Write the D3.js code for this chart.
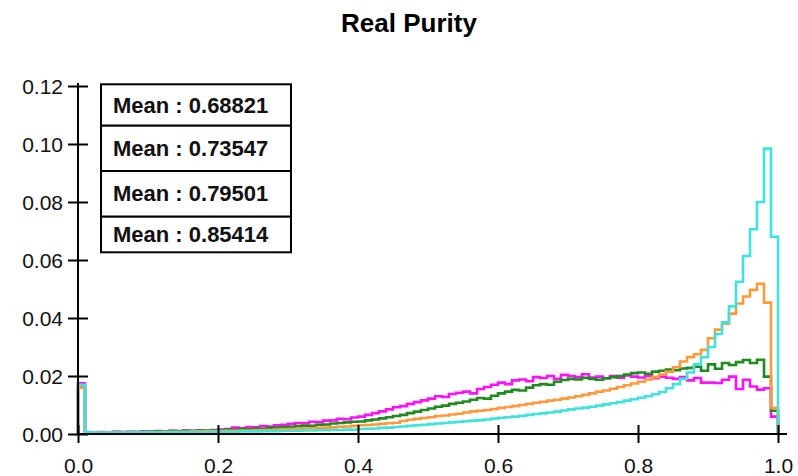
<!DOCTYPE html>
<html>
<head>
<meta charset="utf-8">
<script src="https://cdn.jsdelivr.net/npm/d3@7/dist/d3.min.js"></script>
<style>
  html, body { margin: 0; padding: 0; background: #fff; }
  svg { display: block; }
</style>
</head>
<body>
<svg id="chart" width="798" height="476"></svg>
<script>
// ---------------- DATA ----------------
const titleText = "Real Purity";
const binCount = 100;           // histogram bins on [0, 1]
const seriesNames = ["s1", "s2", "s3", "s4"];
const meanLabels = ["Mean : 0.68821", "Mean : 0.73547", "Mean : 0.79501", "Mean : 0.85414"];
const xTicks = [0.0, 0.2, 0.4, 0.6, 0.8, 1.0];
const yTicks = [0.00, 0.02, 0.04, 0.06, 0.08, 0.10, 0.12];

const magentaValues = [
  0.0175, 0.0007, 0.0006, 0.0007, 0.0006, 0.0008, 0.0007, 0.0008, 0.0007, 0.0009,
  0.0009, 0.0010, 0.0009, 0.0011, 0.0010, 0.0012, 0.0011, 0.0013, 0.0012, 0.0014,
  0.0015, 0.0017, 0.0022, 0.0020, 0.0024, 0.0023, 0.0027, 0.0026, 0.0030, 0.0032,
  0.0035, 0.0038, 0.0037, 0.0042, 0.0041, 0.0046, 0.0047, 0.0052, 0.0051, 0.0057,
  0.0060, 0.0066, 0.0072, 0.0078, 0.0085, 0.0092, 0.0096, 0.0104, 0.0110, 0.0116,
  0.0122, 0.0130, 0.0128, 0.0138, 0.0142, 0.0146, 0.0140, 0.0155, 0.0162, 0.0170,
  0.0177, 0.0172, 0.0185, 0.0188, 0.0182, 0.0196, 0.0193, 0.0200, 0.0190, 0.0204,
  0.0200, 0.0196, 0.0206, 0.0195, 0.0198, 0.0192, 0.0200, 0.0194, 0.0202, 0.0198,
  0.0195, 0.0200, 0.0192, 0.0198, 0.0194, 0.0190, 0.0196, 0.0185, 0.0193, 0.0177,
  0.0177, 0.0176, 0.0187, 0.0198, 0.0155, 0.0187, 0.0164, 0.0153, 0.0158, 0.0060
];
const greenValues = [
  0.0160, 0.0006, 0.0005, 0.0006, 0.0006, 0.0007, 0.0006, 0.0007, 0.0007, 0.0008,
  0.0008, 0.0009, 0.0008, 0.0010, 0.0009, 0.0011, 0.0010, 0.0012, 0.0011, 0.0013,
  0.0013, 0.0015, 0.0014, 0.0017, 0.0016, 0.0019, 0.0018, 0.0021, 0.0022, 0.0024,
  0.0025, 0.0027, 0.0029, 0.0028, 0.0032, 0.0033, 0.0036, 0.0038, 0.0040, 0.0042,
  0.0043, 0.0047, 0.0050, 0.0054, 0.0058, 0.0062, 0.0066, 0.0072, 0.0077, 0.0083,
  0.0088, 0.0094, 0.0098, 0.0104, 0.0108, 0.0112, 0.0118, 0.0124, 0.0122, 0.0132,
  0.0140, 0.0146, 0.0152, 0.0150, 0.0160, 0.0168, 0.0172, 0.0170, 0.0180, 0.0186,
  0.0190, 0.0188, 0.0194, 0.0190, 0.0187, 0.0192, 0.0196, 0.0200, 0.0205, 0.0210,
  0.0212, 0.0208, 0.0215, 0.0218, 0.0222, 0.0220, 0.0226, 0.0228, 0.0232, 0.0218,
  0.0240, 0.0225, 0.0245, 0.0238, 0.0248, 0.0255, 0.0245, 0.0256, 0.0198, 0.0080
];
const orangeValues = [
  0.0160, 0.0005, 0.0005, 0.0005, 0.0006, 0.0005, 0.0006, 0.0006, 0.0006, 0.0007,
  0.0007, 0.0007, 0.0008, 0.0007, 0.0008, 0.0008, 0.0009, 0.0009, 0.0010, 0.0010,
  0.0010, 0.0011, 0.0011, 0.0012, 0.0012, 0.0013, 0.0014, 0.0014, 0.0015, 0.0016,
  0.0017, 0.0018, 0.0019, 0.0020, 0.0021, 0.0022, 0.0023, 0.0025, 0.0026, 0.0028,
  0.0030, 0.0031, 0.0033, 0.0035, 0.0037, 0.0039, 0.0045, 0.0049, 0.0052, 0.0055,
  0.0058, 0.0062, 0.0064, 0.0067, 0.0070, 0.0074, 0.0078, 0.0080, 0.0083, 0.0086,
  0.0090, 0.0093, 0.0096, 0.0100, 0.0104, 0.0108, 0.0111, 0.0115, 0.0118, 0.0122,
  0.0126, 0.0130, 0.0135, 0.0140, 0.0146, 0.0150, 0.0156, 0.0162, 0.0168, 0.0174,
  0.0180, 0.0188, 0.0196, 0.0205, 0.0215, 0.0230, 0.0250, 0.0265, 0.0275, 0.0290,
  0.0330, 0.0360, 0.0380, 0.0415, 0.0450, 0.0474, 0.0497, 0.0518, 0.0453, 0.0090
];
const cyanValues = [
  0.0170, 0.0006, 0.0005, 0.0005, 0.0005, 0.0005, 0.0005, 0.0006, 0.0005, 0.0006,
  0.0006, 0.0006, 0.0006, 0.0007, 0.0006, 0.0007, 0.0007, 0.0007, 0.0007, 0.0008,
  0.0008, 0.0008, 0.0008, 0.0009, 0.0009, 0.0009, 0.0010, 0.0010, 0.0010, 0.0011,
  0.0011, 0.0011, 0.0012, 0.0012, 0.0013, 0.0013, 0.0014, 0.0014, 0.0015, 0.0015,
  0.0017, 0.0018, 0.0019, 0.0021, 0.0022, 0.0024, 0.0026, 0.0028, 0.0030, 0.0032,
  0.0034, 0.0036, 0.0038, 0.0040, 0.0042, 0.0044, 0.0046, 0.0048, 0.0050, 0.0053,
  0.0056, 0.0058, 0.0060, 0.0063, 0.0066, 0.0069, 0.0071, 0.0074, 0.0077, 0.0081,
  0.0085, 0.0088, 0.0091, 0.0094, 0.0098, 0.0102, 0.0106, 0.0110, 0.0115, 0.0120,
  0.0125, 0.0130, 0.0137, 0.0145, 0.0158, 0.0172, 0.0190, 0.0212, 0.0240, 0.0265,
  0.0300, 0.0345, 0.0385, 0.0440, 0.0525, 0.0614, 0.0706, 0.0800, 0.0984, 0.0680
];
const seriesValues = [magentaValues, greenValues, orangeValues, cyanValues];
const seriesColors = ["#ff10ff", "#1f8a1f", "#ff9a3c", "#3fe3dc"];

// ---------------- LAYOUT ----------------
const W = 798, H = 476;
const plot = { left: 78, right: 778, top: 86, bottom: 434 };
const font = "'Liberation Sans', Arial, Helvetica, sans-serif";
const legendBox = { left: 101, right: 291 };
const legendEdges = [84.3, 125.7, 171, 216.7, 252.3];

const svg = d3.select("#chart");

const x = d3.scaleLinear().domain([0, 1]).range([plot.left, plot.right]);
const y = d3.scaleLinear().domain([0, 0.12]).range([plot.bottom, plot.top]);

// title
svg.append("text")
  .attr("x", 409).attr("y", 32)
  .attr("text-anchor", "middle")
  .attr("font-family", font).attr("font-weight", "bold")
  .attr("font-size", 26)
  .attr("fill", "#000")
  .text(titleText);

// histogram step lines
const line = d3.line()
  .x(d => x(d[0])).y(d => y(d[1]))
  .curve(d3.curveStepAfter);

seriesValues.forEach((vals, si) => {
  const pts = [[0, 0]];
  vals.forEach((v, i) => pts.push([i / binCount, v]));
  pts.push([1, vals[vals.length - 1]]);
  pts.push([1, 0]);
  svg.append("path")
    .datum(pts)
    .attr("class", "series " + seriesNames[si])
    .attr("fill", "none")
    .attr("stroke", seriesColors[si])
    .attr("stroke-width", 2.6)
    .attr("stroke-linejoin", "miter")
    .attr("d", line);
});

// y axis
const yAxis = d3.axisLeft(y)
  .tickValues(yTicks)
  .tickFormat(d3.format(".2f"))
  .tickSizeOuter(0)
  .tickSizeInner(10)
  .tickPadding(5);
const gy = svg.append("g")
  .attr("transform", `translate(${plot.left},0)`)
  .call(yAxis);
gy.select(".domain").remove();
gy.selectAll(".tick line").attr("x1", -10).attr("x2", 10)
  .attr("stroke", "#000").attr("stroke-width", 2);
gy.selectAll(".tick text")
  .attr("font-family", font).attr("font-size", 21).attr("fill", "#111")
  .attr("x", -15).attr("dy", "0.36em");
svg.append("line")
  .attr("x1", plot.left).attr("x2", plot.left)
  .attr("y1", plot.top - 3).attr("y2", plot.bottom)
  .attr("stroke", "#000").attr("stroke-width", 2);

// x axis
const xAxis = d3.axisBottom(x)
  .tickValues(xTicks)
  .tickFormat(d3.format(".1f"))
  .tickSizeOuter(0)
  .tickSizeInner(9)
  .tickPadding(14);
const gx = svg.append("g")
  .attr("transform", `translate(0,${plot.bottom})`)
  .call(xAxis);
gx.select(".domain").remove();
gx.selectAll(".tick line").attr("y1", -9).attr("y2", 9)
  .attr("stroke", "#000").attr("stroke-width", 2);
gx.selectAll(".tick text")
  .attr("font-family", font).attr("font-size", 21).attr("fill", "#111")
  .attr("y", 39).attr("dy", 0);
svg.append("line")
  .attr("x1", plot.left).attr("x2", plot.right + 9)
  .attr("y1", plot.bottom).attr("y2", plot.bottom)
  .attr("stroke", "#000").attr("stroke-width", 2);

// legend (mean boxes)
meanLabels.forEach((lab, i) => {
  const top = legendEdges[i], bot = legendEdges[i + 1];
  svg.append("rect")
    .attr("x", legendBox.left).attr("y", top)
    .attr("width", legendBox.right - legendBox.left)
    .attr("height", bot - top)
    .attr("fill", "#fff").attr("stroke", "#000").attr("stroke-width", 2);
  svg.append("text")
    .attr("x", 113).attr("y", (top + bot) / 2 + 7.5)
    .attr("font-family", font).attr("font-weight", "bold")
    .attr("font-size", 22).attr("fill", "#111")
    .text(lab);
});
</script>
</body>
</html>
